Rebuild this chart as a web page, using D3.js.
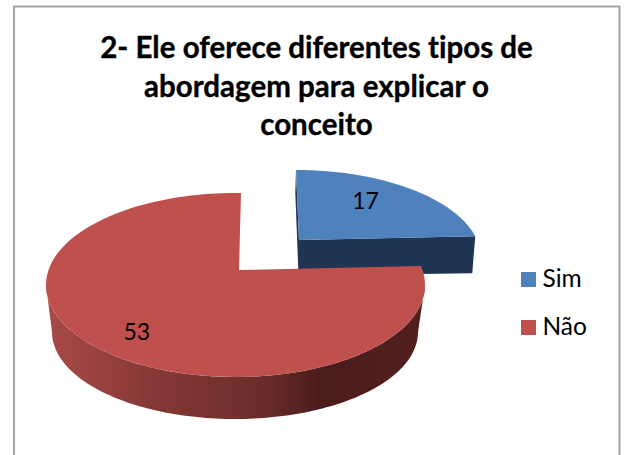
<!DOCTYPE html>
<html>
<head>
<meta charset="utf-8">
<script src="https://cdn.jsdelivr.net/npm/d3@7"></script>
<style>
html,body{margin:0;padding:0;background:#fff;}
svg{display:block;}
text{font-family:Lato,"Open Sans",sans-serif;fill:#000;font-variant-ligatures:none;}
</style>
</head>
<body>
<div id="chart"></div>
<script>
const categories = ["Sim", "Não"];
const values = [17, 53];
const titleLines = ["2- Ele oferece diferentes tipos de", "abordagem para explicar o", "conceito"];
const topColors = ["#4f81bd", "#c0504d"];
const blueSideColor = "#1f3552";
const redSideStops = [[0, "#a84a47"], [0.27, "#873936"], [0.58, "#692c2a"], [0.72, "#4a1c1b"], [1, "#521f1e"]];

const W = 627, H = 455;
const svg = d3.select("#chart").append("svg").attr("width", W).attr("height", H);

// chart frame (runs past the bottom of the window)
svg.append("rect").attr("x", 14).attr("y", 6.5).attr("width", 605.5).attr("height", 470)
  .attr("fill", "#fff").attr("stroke", "#a3a3a3").attr("stroke-width", 2);

// title
svg.append("g").selectAll("text").data(titleLines).join("text")
  .attr("x", 316.5).attr("y", (d, i) => 58 + i * 38.5)
  .attr("text-anchor", "middle").attr("font-size", 29.5).attr("font-weight", 700)
  .attr("stroke", "#000").attr("stroke-width", 0.35)
  .text(d => d);

// pie angles: clockwise from 12 o'clock
const slices = d3.pie().sort(null).value(d => d)(values);

// 3D-projection settings for each slice
const geo = [
  { apex: [299, 240], c: [296, 258], rx: 185, ry: 88, lean: 0.043 },
  { apex: [239, 270], c: [235.5, 285], rx: 189.5, ry: 92, lean: -0.026, bottom: { c: [235, 332], rx: 183, ry: 87 } }
];

// where the ray leaving the apex at angle a meets the slice's rim
function rimPoint(g, a) {
  const dx = g.rx * Math.sin(a) - g.lean * g.ry * Math.cos(a);
  const dy = -g.ry * Math.cos(a);
  const ox = (g.apex[0] - g.c[0]) / g.rx, oy = (g.apex[1] - g.c[1]) / g.ry;
  const ux = dx / g.rx, uy = dy / g.ry;
  const A = ux * ux + uy * uy, B = 2 * (ox * ux + oy * uy), C = ox * ox + oy * oy - 1;
  const t = (-B + Math.sqrt(B * B - 4 * A * C)) / (2 * A);
  return [g.apex[0] + t * dx, g.apex[1] + t * dy];
}
function rim(g, a0, a1, n = 120) {
  return d3.range(n + 1).map(i => rimPoint(g, a0 + (a1 - a0) * i / n));
}
function ellipseArc(e, t0, t1, n = 120) {
  return d3.range(n + 1).map(i => {
    const t = t0 + (t1 - t0) * i / n;
    return [e.c[0] + e.rx * Math.sin(t), e.c[1] - e.ry * Math.cos(t)];
  });
}
const line = d3.line();

// ---- blue slice (behind) ----
(function () {
  const g = geo[0], s = slices[0];
  const start = rimPoint(g, s.startAngle);
  const end = rimPoint(g, s.endAngle);
  const sliverMid = [start[0] - 0.7, start[1] + 23];
  const side = [start, sliverMid, [g.apex[0] - 0.5, g.apex[1] + 34],
    [g.apex[0] + 120, g.apex[1] + 34], [end[0] - 3, end[1] + 37], end, g.apex];
  svg.append("path").attr("d", line(side) + "Z").attr("fill", blueSideColor);
  svg.append("path").attr("d", line([g.apex, ...rim(g, s.startAngle, s.endAngle)]) + "Z")
    .attr("fill", topColors[0]);
})();

// ---- red slice (front) ----
(function () {
  const g = geo[1], s = slices[1];
  const grad = svg.append("defs").append("linearGradient").attr("id", "redSide")
    .attr("gradientUnits", "userSpaceOnUse").attr("x1", 47).attr("x2", 425).attr("y1", 0).attr("y2", 0);
  grad.selectAll("stop").data(redSideStops).join("stop")
    .attr("offset", d => d[0]).attr("stop-color", d => d[1]);
  const topArc = ellipseArc(g, Math.PI * 0.5, Math.PI * 1.5);
  const botArc = ellipseArc(g.bottom, Math.PI * 1.5, Math.PI * 0.5);
  svg.append("path").attr("d", line([...topArc, ...botArc]) + "Z").attr("fill", "url(#redSide)");
  svg.append("path").attr("d", line([g.apex, ...rim(g, s.startAngle, s.endAngle)]) + "Z")
    .attr("fill", topColors[1]);
})();

// data labels
const labelPos = [{ f: 0.52, dy: -7 }, { f: 0.78, dy: 9 }];
svg.append("g").selectAll("text").data(slices).join("text")
  .attr("x", (d, i) => {
    const g = geo[i], a = (d.startAngle + d.endAngle) / 2;
    return g.apex[0] + labelPos[i].f * g.rx * Math.sin(a);
  })
  .attr("y", (d, i) => {
    const g = geo[i], a = (d.startAngle + d.endAngle) / 2;
    return g.apex[1] - labelPos[i].f * g.ry * Math.cos(a) + labelPos[i].dy;
  })
  .attr("text-anchor", "middle").attr("dominant-baseline", "central")
  .attr("font-size", 23)
  .text(d => d.value);

// legend
const legendY = d3.scalePoint().domain(categories).range([272, 320]);
const legend = svg.append("g").selectAll("g").data(categories).join("g")
  .attr("transform", d => `translate(521,${legendY(d)})`);
legend.append("rect").attr("width", 15).attr("height", 15).attr("fill", (d, i) => topColors[i]);
legend.append("text").attr("x", 21.5).attr("y", 15).attr("font-size", 24.5).text(d => d);
</script>
</body>
</html>
